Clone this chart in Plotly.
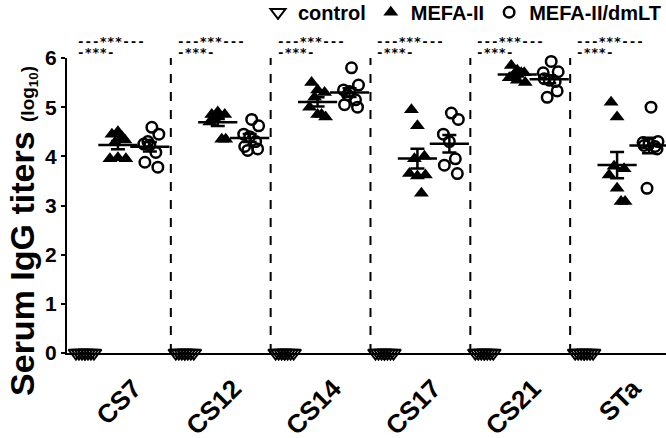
import numpy as np
import plotly.graph_objects as go

categories = ["CS7", "CS12", "CS14", "CS17", "CS21", "STa"]

# control group (all at 0 log10)
control_cs7 = [0, 0, 0, 0, 0, 0, 0, 0]
control_cs12 = [0, 0, 0, 0, 0, 0, 0, 0]
control_cs14 = [0, 0, 0, 0, 0, 0, 0, 0]
control_cs17 = [0, 0, 0, 0, 0, 0, 0, 0]
control_cs21 = [0, 0, 0, 0, 0, 0, 0, 0]
control_sta = [0, 0, 0, 0, 0, 0, 0, 0]

# MEFA-II
mefa_cs7 = [4.45, 4.50, 4.33, 4.28, 3.95, 3.97, 3.95, 4.40]
mefa_cs12 = [4.85, 4.90, 4.85, 4.75, 4.70, 4.80, 4.35, 4.35]
mefa_cs14 = [5.50, 5.35, 5.30, 5.20, 5.00, 4.85, 4.80, 4.85]
mefa_cs17 = [4.95, 4.62, 4.00, 3.95, 3.65, 3.60, 3.62, 3.25]
mefa_cs21 = [5.85, 5.75, 5.70, 5.65, 5.60, 5.55, 5.50, 5.70]
mefa_sta = [5.10, 4.80, 3.75, 3.80, 3.62, 3.35, 3.08, 3.08]

# MEFA-II/dmLT
dmlt_cs7 = [4.59, 4.45, 4.25, 4.23, 4.08, 3.88, 3.78, 4.30]
dmlt_cs12 = [4.75, 4.62, 4.45, 4.40, 4.30, 4.20, 4.15, 4.12]
dmlt_cs14 = [5.80, 5.45, 5.35, 5.32, 5.15, 5.05, 5.00, 5.25]
dmlt_cs17 = [4.88, 4.75, 4.45, 4.30, 3.95, 3.82, 3.65]
dmlt_cs21 = [5.93, 5.72, 5.70, 5.55, 5.52, 5.58, 5.33, 5.20]
dmlt_sta = [5.00, 4.30, 4.28, 4.25, 4.20, 4.22, 4.15, 3.35]

sig_top = "---***---"
sig_bottom = "-***-"

controls = [control_cs7, control_cs12, control_cs14, control_cs17, control_cs21, control_sta]
mefas = [mefa_cs7, mefa_cs12, mefa_cs14, mefa_cs17, mefa_cs21, mefa_sta]
dmlts = [dmlt_cs7, dmlt_cs12, dmlt_cs14, dmlt_cs17, dmlt_cs21, dmlt_sta]

FONT = "Liberation Sans"
OFF_CTRL, OFF_MEFA, OFF_DMLT = -0.36, -0.03, 0.29
jit_ctrl = [-0.09, -0.06, -0.03, 0.0, 0.03, 0.06, 0.09, 0.0]
jit_tri = [-0.06, 0.0, 0.07, -0.03, -0.08, 0.0, 0.08, 0.04]
jit_circ = [0.02, 0.09, -0.06, 0.0, 0.06, -0.05, 0.08, -0.02]


def build(groups, off, jit):
    xs, ys = [], []
    for i, vals in enumerate(groups):
        for k, v in enumerate(vals):
            xs.append(i + off + jit[k % len(jit)])
            ys.append(v)
    return xs, ys


fig = go.Figure()

cx, cy = build(controls, OFF_CTRL, jit_ctrl)
fig.add_trace(go.Scatter(x=cx, y=cy, mode="markers", name="control",
                         marker=dict(symbol="triangle-down-open", size=13, color="black",
                                     line=dict(width=2, color="black")),
                         cliponaxis=False))
mx, my = build(mefas, OFF_MEFA, jit_tri)
fig.add_trace(go.Scatter(x=mx, y=my, mode="markers", name="MEFA-II",
                         marker=dict(symbol="triangle-up", size=13, color="black"),
                         cliponaxis=False))
dx, dy = build(dmlts, OFF_DMLT, jit_circ)
fig.add_trace(go.Scatter(x=dx, y=dy, mode="markers", name="MEFA-II/dmLT",
                         marker=dict(symbol="circle-open", size=10.5, color="black",
                                     line=dict(width=2.5, color="black")),
                         cliponaxis=False))

# mean +/- SEM
for groups, off in [(mefas, OFF_MEFA), (dmlts, OFF_DMLT)]:
    means = [float(np.mean(g)) for g in groups]
    sems = [float(np.std(g, ddof=1) / np.sqrt(len(g))) for g in groups]
    fig.add_trace(go.Scatter(x=[i + off for i in range(len(groups))], y=means, mode="markers",
                             showlegend=False, hoverinfo="skip", cliponaxis=False,
                             marker=dict(symbol="line-ew-open", size=28, color="black",
                                         line=dict(width=2.5, color="black")),
                             error_y=dict(type="data", array=sems, visible=True,
                                          thickness=2.5, width=7, color="black")))

shapes = []
for i in range(len(categories) - 1):
    shapes.append(dict(type="line", xref="x", yref="y", x0=i + 0.5, x1=i + 0.5, y0=0, y1=6,
                       line=dict(color="black", width=2, dash="dash")))

MONO = "DejaVu Sans Mono"
annotations = []
for i in range(len(categories)):
    annotations.append(dict(x=i - 0.46, y=1.055, xref="x", yref="paper", text=sig_top, showarrow=False,
                            xanchor="left", yanchor="middle",
                            font=dict(family=MONO, size=12.5, color="black", weight="bold")))
    annotations.append(dict(x=i - 0.46, y=1.017, xref="x", yref="paper", text=sig_bottom, showarrow=False,
                            xanchor="left", yanchor="middle",
                            font=dict(family=MONO, size=12.5, color="black", weight="bold")))

annotations.append(dict(x=-0.075, y=0.414, xref="paper", yref="paper", xanchor="center", yanchor="middle",
                        textangle=-90, showarrow=False,
                        text="Serum IgG titers <span style='font-size:19px'>(log<sub>10</sub>)</span>",
                        font=dict(family=FONT, size=34, color="black", weight="bold")))

fig.update_layout(
    width=666, height=438,
    margin=dict(l=67, r=0, t=58, b=85, autoexpand=False),
    plot_bgcolor="white", paper_bgcolor="white",
    showlegend=True,
    legend=dict(orientation="h", x=1.0, xanchor="right", y=1.155, yanchor="middle",
                font=dict(family=FONT, size=20, color="black", weight="bold"),
                itemwidth=30, tracegroupgap=0, bgcolor="rgba(0,0,0,0)"),
    shapes=shapes,
    annotations=annotations,
    font=dict(family=FONT, color="black"),
)

fig.update_xaxes(range=[-0.54, 5.46], tickmode="array",
                 tickvals=[i + 0.13 for i in range(len(categories))], ticktext=categories,
                 tickangle=-45, ticks="outside", ticklen=8, tickcolor="rgba(0,0,0,0)",
                 showgrid=False, zeroline=False,
                 showline=True, linecolor="black", linewidth=2, automargin=False,
                 tickfont=dict(family=FONT, size=26, color="black", weight="bold"))
fig.update_yaxes(range=[0, 6], tickvals=[0, 1, 2, 3, 4, 5, 6], ticks="outside", ticklen=4,
                 tickwidth=2, tickcolor="black", showgrid=False, zeroline=False,
                 showline=True, linecolor="black", linewidth=2, automargin=False,
                 tickfont=dict(family=FONT, size=21, color="black", weight="bold"))

fig.write_html("out.html", config={"displayModeBar": False},
               post_script="document.body.style.margin='0';document.body.style.padding='0';")
